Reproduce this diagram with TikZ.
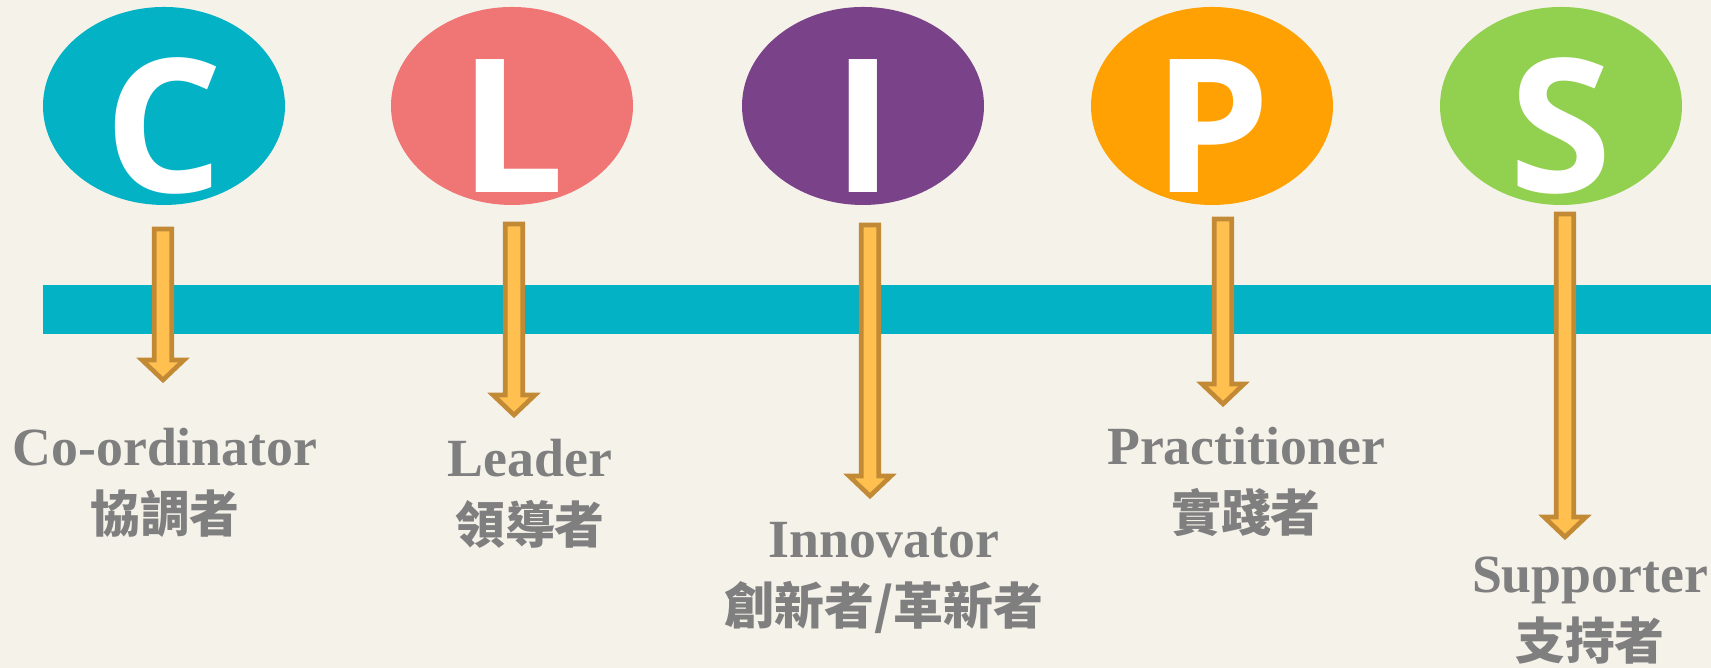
\documentclass[tikz,border=0pt]{standalone}
\usepackage{fontspec}
\setmainfont{Liberation Serif}
\newfontfamily\cjk{Noto Sans CJK TC}
\newfontfamily\letterfont{Open Sans}
\usepackage{tikz}
\usetikzlibrary{positioning}
\usetikzlibrary{calc}
\usetikzlibrary{shapes.geometric}

\definecolor{paper}{HTML}{F5F2EA}
\definecolor{cteal}{HTML}{03B2C5}
\definecolor{csalmon}{HTML}{F07575}
\definecolor{cpurple}{HTML}{7A4289}
\definecolor{corange}{HTML}{FFA102}
\definecolor{cgreen}{HTML}{92D050}
\definecolor{arrowfill}{HTML}{FFC050}
\definecolor{arrowedge}{HTML}{C28A35}
\definecolor{labelgray}{HTML}{7F7F7F}

\tikzset{
  ball/.style={ellipse, minimum width=2.42cm, minimum height=1.98cm, inner sep=0pt},
  letter/.style={text=white, font=\letterfont\bfseries\fontsize{53}{53}\selectfont, inner sep=0pt, anchor=base},
  rolename/.style={text=labelgray, font=\bfseries\fontsize{15.3}{18}\selectfont, inner sep=0pt, anchor=base},
  rolecjk/.style={text=labelgray, font=\cjk\bfseries\fontsize{14.2}{17}\selectfont, inner sep=0pt},
  blockarrow/.style={fill=arrowfill, draw=arrowedge, line width=1.3pt, line join=miter}
}

% vertical block arrow from #1 down to #2
\newcommand{\downblock}[2]{%
  \draw[blockarrow] let \p1=(#1), \p2=(#2) in
    (\x1-0.0875cm,\y1) -- (\x1+0.0875cm,\y1) -- (\x1+0.0875cm,\y2+0.2cm)
    -- (\x1+0.21cm,\y2+0.2cm) -- (\x1,\y2) -- (\x1-0.21cm,\y2+0.2cm)
    -- (\x1-0.0875cm,\y2+0.2cm) -- cycle;}

\begin{document}
\begin{tikzpicture}
            \useasboundingbox (0,0) rectangle (17.11,6.68);
            \fill[paper] (0,0) rectangle (17.11,6.68);
            \fill[cteal] (0.43,3.34) rectangle (17.11,3.83);

            \node[ball, fill=cteal] (C) at (1.64,5.62) {};
            \node[ball, fill=csalmon] (L) at (5.12,5.62) {};
            \node[ball, fill=cpurple] (I) at (8.63,5.62) {};
            \node[ball, fill=corange] (P) at (12.12,5.62) {};
            \node[ball, fill=cgreen] (S) at (15.61,5.62) {};

            \node[letter] (Ct) at ($(C.center)+(0,-0.87)$) {C};
            \node[letter] (Lt) at ($(L.center)+(0,-0.87)$) {L};
            \node[letter] (It) at ($(I.center)+(0,-0.87)$) {I};
            \node[letter] (Pt) at ($(P.center)+(0,-0.87)$) {P};
            \node[letter] (St) at ($(S.center)+(0,-0.87)$) {S};

            \coordinate (c top) at (1.63,4.39);
            \coordinate (c tip) at (1.63,2.88);
            \coordinate (l top) at (5.14,4.44);
            \coordinate (l tip) at (5.14,2.53);
            \coordinate (i top) at (8.70,4.43);
            \coordinate (i tip) at (8.70,1.72);
            \coordinate (p top) at (12.23,4.49);
            \coordinate (p tip) at (12.23,2.64);
            \coordinate (s top) at (15.65,4.54);
            \coordinate (s tip) at (15.65,1.31);
            \downblock{c top}{c tip}
            \downblock{l top}{l tip}
            \downblock{i top}{i tip}
            \downblock{p top}{p tip}
            \downblock{s top}{s tip}

            \node[rolename] (co) at (1.65,2.02) {Co-ordinator};
            \node[rolecjk, below=0.67cm of co.base, anchor=base] (coz) {協調者};
            \node[rolename] (le) at (5.30,1.91) {Leader};
            \node[rolecjk, below=0.67cm of le.base, anchor=base] (lez) {領導者};
            \node[rolename] (in) at (8.84,1.10) {Innovator};
            \node[rolecjk, below=0.67cm of in.base, anchor=base] (inz) {創新者/革新者};
            \node[rolename] (pr) at (12.46,2.03) {Practitioner};
            \node[rolecjk, below=0.67cm of pr.base, anchor=base] (prz) {實踐者};
            \node[rolename] (su) at (15.90,0.75) {Supporter};
            \node[rolecjk, below=0.67cm of su.base, anchor=base] (suz) {支持者};
        \end{tikzpicture}
\end{document}
